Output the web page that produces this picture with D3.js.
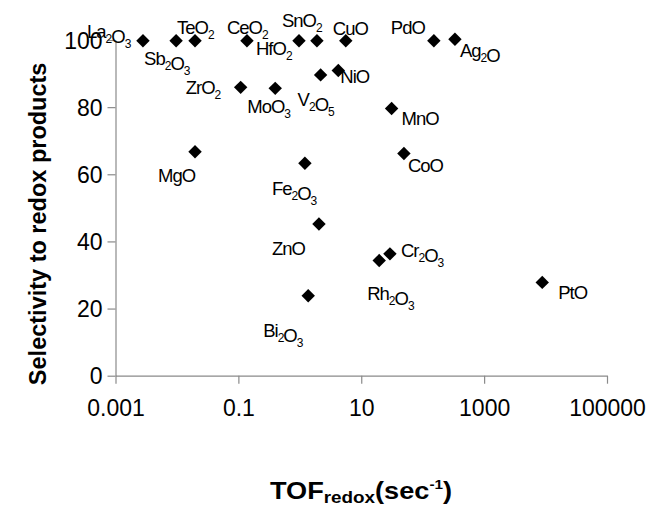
<!DOCTYPE html>
<html>
<head>
<meta charset="utf-8">
<script src="https://cdn.jsdelivr.net/npm/d3@7"></script>
<style>
  body { margin: 0; background: #fff; }
  svg { display: block; font-family: "Liberation Sans", Arial, sans-serif; }
</style>
</head>
<body>
<script>
// catalysts, turnover frequency (sec^-1) and selectivity (%)
const oxides = ['La2O3', 'Sb2O3', 'TeO2', 'CeO2', 'HfO2', 'SnO2', 'CuO', 'PdO', 'Ag2O',
  'ZrO2', 'MoO3', 'V2O5', 'NiO', 'MnO', 'MgO', 'Fe2O3', 'CoO', 'ZnO', 'Cr2O3', 'Rh2O3', 'Bi2O3', 'PtO'];
const tof = [0.0028, 0.0097, 0.0197, 0.138, 0.97, 1.9, 5.6, 152, 335,
  0.109, 0.398, 2.18, 4.23, 31.2, 0.0197, 1.21, 49.5, 2.05, 29.3, 19.6, 1.37, 8830];
const selectivity = [99.8, 99.8, 99.8, 99.8, 99.8, 99.8, 99.8, 99.8, 100.2,
  85.9, 85.6, 89.6, 90.9, 79.6, 66.7, 63.3, 66.2, 45.2, 36.3, 34.3, 23.8, 27.8];

const xTickValues = [0.001, 0.1, 10, 1000, 100000];
const xTickLabels = ['0.001', '0.1', '10', '1000', '100000'];
const yTickValues = [0, 20, 40, 60, 80, 100];

// where each label sits relative to its marker (dx, dy)
const labelOffset = {
  La2O3: [-56, -3], Sb2O3: [-32, 24], TeO2: [-18, -7], CeO2: [-20, -7], HfO2: [-43, 14],
  SnO2: [-35, -14], CuO: [-13, -6], PdO: [-43, -7], Ag2O: [5, 18], ZrO2: [-55, 7],
  MoO3: [-28, 25], V2O5: [-23, 31], NiO: [2, 12], MnO: [10, 17], MgO: [-37, 30],
  Fe2O3: [-33, 32], CoO: [4, 19], ZnO: [-47, 31], Cr2O3: [11, 3], Rh2O3: [-12, 39],
  Bi2O3: [-45, 41], PtO: [16, 17],
};

const width = 649;
const height = 512;

const svg = d3.select('body').append('svg')
  .attr('width', width)
  .attr('height', height);

const x = d3.scaleLog().domain([0.001, 100000]).range([115.5, 607]);
const y = d3.scaleLinear().domain([0, 100]).range([375.7, 40]);

const xAxis = svg.append('g')
  .attr('transform', `translate(0,${y(0)})`)
  .call(d3.axisBottom(x)
    .tickValues(xTickValues)
    .tickFormat((d, i) => xTickLabels[i])
    .tickSize(8)
    .tickSizeOuter(0)
    .tickPadding(16));

const yAxis = svg.append('g')
  .attr('transform', `translate(${x(0.001)},0)`)
  .call(d3.axisLeft(y)
    .tickValues(yTickValues)
    .tickSize(8)
    .tickSizeOuter(0)
    .tickPadding(5));

[xAxis, yAxis].forEach((g) => {
  g.select('.domain').attr('stroke', '#8a8a8a').attr('stroke-width', 1.2);
  g.selectAll('.tick line').attr('stroke', '#8a8a8a').attr('stroke-width', 1.2);
  g.selectAll('.tick text')
    .attr('fill', '#000')
    .style('font-size', '23px')
    .style('font-family', '"Liberation Sans", Arial, sans-serif');
});
yAxis.selectAll('.tick text').attr('dy', '0.36em');

const points = oxides.map((name, i) => ({ name, tof: tof[i], sel: selectivity[i] }));

const diamond = d3.symbol().type(d3.symbolSquare).size(90);

svg.append('g')
  .selectAll('path')
  .data(points)
  .join('path')
  .attr('d', diamond)
  .attr('transform', d => `translate(${x(d.tof)},${y(d.sel)}) rotate(45)`)
  .attr('fill', '#000');

// chemical formula with subscripted digits
function formula(textSel, name, big, small, drop) {
  name.split(/(\d+)/).filter(s => s).forEach((part) => {
    const isNum = /^\d+$/.test(part);
    textSel.append('tspan')
      .text(part)
      .style('font-size', `${isNum ? small : big}px`)
      .attr('dy', isNum ? drop : 0);
    if (isNum) textSel.append('tspan').text('').attr('dy', -drop);
  });
}

const labels = svg.append('g').attr('fill', '#000');
points.forEach((d) => {
  const [dx, dy] = labelOffset[d.name];
  const t = labels.append('text')
    .attr('x', x(d.tof) + dx)
    .attr('y', y(d.sel) + dy)
    .style('letter-spacing', '-1px');
  formula(t, d.name, 18.5, 12, 5);
});

// axis titles
svg.append('text')
  .attr('transform', `translate(46,${(y(0) + y(100)) / 2 + 16}) rotate(-90)`)
  .attr('text-anchor', 'middle')
  .style('font-size', '23.5px')
  .style('font-weight', 'bold')
  .text('Selectivity to redox products');

const xt = svg.append('text')
  .attr('x', 0)
  .attr('y', 0)
  .attr('text-anchor', 'middle')
  .attr('transform', 'translate(361,499) scale(1.18,1)')
  .style('font-weight', 'bold')
  .style('font-size', '23px');
xt.append('tspan').text('TOF');
xt.append('tspan').text('redox').style('font-size', '16px').attr('dy', 4);
xt.append('tspan').text('(sec').attr('dy', -4);
xt.append('tspan').text('-1').style('font-size', '13px').attr('dy', -10);
xt.append('tspan').text(')').attr('dy', 10);
</script>
</body>
</html>
